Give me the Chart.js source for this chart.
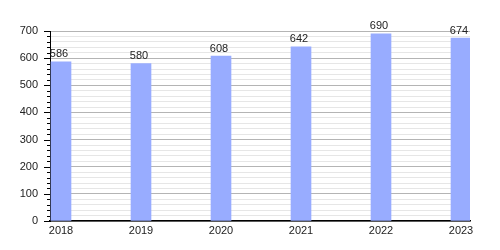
<!DOCTYPE html>
<html>
<head>
<meta charset="utf-8">
<script src="https://cdn.jsdelivr.net/npm/chart.js@4/dist/chart.umd.min.js"></script>
<style>
    body { margin: 0; background: #fff; }
    canvas { display: block; }
</style>
</head>
<body>
<canvas id="bar_chart" width="500" height="250"></canvas>
<script>
// chart data
const years = [2018, 2019, 2020, 2021, 2022, 2023];
const counts = [586, 580, 608, 642, 690, 674];
const yTicks = [0, 100, 200, 300, 400, 500, 600, 700];

const fontFamily = '"Liberation Sans", Arial, sans-serif';

//value labels above each bar
const valueLabels = {
    id: 'valueLabels',
    afterDatasetsDraw(chart) {
        const ctx = chart.ctx;
        const meta = chart.getDatasetMeta(0);
        ctx.save();
        ctx.font = '11px ' + fontFamily;
        ctx.fillStyle = '#222';
        ctx.textAlign = 'center';
        ctx.textBaseline = 'bottom';
        meta.data.forEach((bar, i) => {
            ctx.fillText(String(counts[i]), bar.x - 2, bar.y - 2);
        });
        ctx.restore();
    }
};

//y axis tick marks, long for labelled, short for minor
const yTickMarks = {
    id: 'yTickMarks',
    afterDraw(chart) {
        const ctx = chart.ctx;
        const y = chart.scales.y;
        const left = chart.chartArea.left;
        ctx.save();
        ctx.strokeStyle = '#000';
        ctx.lineWidth = 1;
        y.ticks.forEach(t => {
            const py = Math.round(y.getPixelForValue(t.value)) + 0.5;
            const len = yTicks.includes(t.value) ? 6 : 3;
            ctx.beginPath();
            ctx.moveTo(left - len, py);
            ctx.lineTo(left, py);
            ctx.stroke();
        });
        ctx.restore();
    }
};

function createChart(id) {
    const ctx = document.getElementById(id);
    return new Chart(ctx, {
        type: 'bar',
        data: {
            datasets: [{
                data: years.map((yr, i) => ({ x: yr, y: counts[i] })),
                backgroundColor: '#98acff',
                borderWidth: 0,
                barThickness: 20
            }]
        },
        options: {
            responsive: false,
            animation: false,
            layout: { padding: { top: 31, right: 30, left: 0, bottom: 0 } },
            plugins: {
                legend: { display: false },
                tooltip: { enabled: false }
            },
            scales: {
                x: {
                    type: 'linear',
                    offset: false,
                    min: 2017.8625,
                    max: 2023.1125,
                    afterBuildTicks: scale => {
                        scale.ticks = years.map(v => ({ value: v }));
                    },
                    afterFit: scale => { scale.height = 29; },
                    grid: { display: false, drawTicks: false, offset: false },
                    border: { display: true, color: '#000', width: 1.5 },
                    ticks: {
                        padding: 3,
                        color: '#222',
                        font: { family: fontFamily, size: 11 },
                        maxRotation: 0,
                        callback: v => String(v)
                    }
                },
                y: {
                    min: 0,
                    max: 700,
                    afterBuildTicks: scale => {
                        const t = [];
                        for (let v = 0; v <= 700; v += 20) t.push({ value: v });
                        scale.ticks = t;
                    },
                    afterFit: scale => { scale.width = 50; },
                    grid: {
                        drawTicks: false,
                        color: c => yTicks.includes(c.tick.value) ? '#b4b4b4' : '#e6e6e6'
                    },
                    border: { display: true, color: '#000', width: 1 },
                    ticks: {
                        padding: 12,
                        color: '#222',
                        autoSkip: false,
                        font: { family: fontFamily, size: 11 },
                        callback: v => yTicks.includes(v) ? String(v) : ''
                    }
                }
            }
        },
        plugins: [valueLabels, yTickMarks]
    });
}

let barChart;
window.onload = () => {
    barChart = createChart('bar_chart');
};
</script>
</body>
</html>
